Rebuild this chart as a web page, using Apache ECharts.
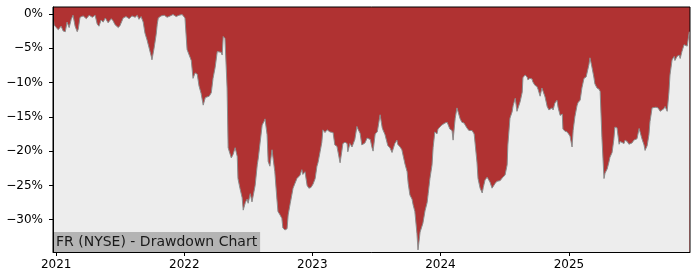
<!DOCTYPE html>
<html>
<head>
<meta charset="utf-8">
<script src="https://cdn.jsdelivr.net/npm/echarts@6/dist/echarts.min.js"></script>
<style>html,body{margin:0;padding:0;background:#fff}#c{width:700px;height:280px}</style>
</head>
<body>
<div id="c"></div>
<script>
const chartTitle = "FR (NYSE) - Drawdown Chart";
const yTicks = [0, -5, -10, -15, -20, -25, -30];
const xTicks = ["2021-01-01", "2022-01-01", "2023-01-01", "2024-01-01", "2025-01-01"];
const dates = [
"2020-12-23","2020-12-26","2021-01-01","2021-01-07","2021-01-15","2021-01-21","2021-01-27","2021-02-01","2021-02-07","2021-02-13",
"2021-02-18","2021-02-24","2021-03-02","2021-03-05","2021-03-10","2021-03-19","2021-03-28","2021-04-05","2021-04-14","2021-04-22",
"2021-04-28","2021-05-03","2021-05-09","2021-05-15","2021-05-21","2021-05-29","2021-06-07","2021-06-12","2021-06-18","2021-06-27",
"2021-07-02","2021-07-11","2021-07-19","2021-07-28","2021-08-05","2021-08-14","2021-08-20","2021-08-25","2021-08-31","2021-09-06",
"2021-09-11","2021-09-17","2021-09-23","2021-09-29","2021-10-01","2021-10-07","2021-10-13","2021-10-16","2021-10-19","2021-10-27",
"2021-11-05","2021-11-13","2021-11-22","2021-11-30","2021-12-09","2021-12-17","2021-12-26","2021-12-31","2022-01-03","2022-01-09",
"2022-01-15","2022-01-21","2022-01-26","2022-02-01","2022-02-07","2022-02-12","2022-02-18","2022-02-24","2022-03-02","2022-03-07",
"2022-03-13","2022-03-19","2022-03-24","2022-03-30","2022-04-05","2022-04-10","2022-04-16","2022-04-19","2022-04-22","2022-04-27",
"2022-05-03","2022-05-06","2022-05-12","2022-05-15","2022-05-20","2022-05-26","2022-06-01","2022-06-03","2022-06-09","2022-06-15",
"2022-06-18","2022-06-24","2022-06-29","2022-07-02","2022-07-08","2022-07-13","2022-07-16","2022-07-22","2022-07-28","2022-07-31",
"2022-08-05","2022-08-11","2022-08-17","2022-08-19","2022-08-25","2022-08-28","2022-09-02","2022-09-08","2022-09-11","2022-09-16",
"2022-09-22","2022-09-25","2022-10-01","2022-10-06","2022-10-09","2022-10-15","2022-10-21","2022-10-24","2022-10-30","2022-11-04",
"2022-11-07","2022-11-12","2022-11-18","2022-11-27","2022-12-02","2022-12-05","2022-12-11","2022-12-17","2022-12-22","2022-12-28",
"2023-01-03","2023-01-09","2023-01-14","2023-01-17","2023-01-23","2023-01-28","2023-01-31","2023-02-06","2023-02-12","2023-02-15",
"2023-02-20","2023-03-01","2023-03-06","2023-03-12","2023-03-15","2023-03-21","2023-03-26","2023-03-29","2023-04-04","2023-04-10",
"2023-04-12","2023-04-18","2023-04-24","2023-04-27","2023-05-02","2023-05-08","2023-05-11","2023-05-17","2023-05-22","2023-05-31",
"2023-06-06","2023-06-09","2023-06-15","2023-06-20","2023-06-23","2023-06-29","2023-07-05","2023-07-07","2023-07-13","2023-07-19",
"2023-07-21","2023-07-27","2023-08-02","2023-08-04","2023-08-10","2023-08-16","2023-08-18","2023-08-24","2023-08-30","2023-09-01",
"2023-09-08","2023-09-13","2023-09-16","2023-09-22","2023-09-28","2023-10-01","2023-10-06","2023-10-12","2023-10-15","2023-10-20",
"2023-10-26","2023-10-29","2023-11-04","2023-11-09","2023-11-12","2023-11-18","2023-11-24","2023-11-27","2023-12-02","2023-12-08",
"2023-12-11","2023-12-16","2023-12-22","2023-12-25","2023-12-30","2024-01-05","2024-01-08","2024-01-14","2024-01-20","2024-01-22",
"2024-01-28","2024-02-03","2024-02-06","2024-02-12","2024-02-17","2024-02-20","2024-02-26","2024-03-02","2024-03-08","2024-03-11",
"2024-03-16","2024-03-22","2024-03-25","2024-03-31","2024-04-06","2024-04-09","2024-04-14","2024-04-17","2024-04-23","2024-04-29",
"2024-05-02","2024-05-07","2024-05-13","2024-05-16","2024-05-21","2024-05-27","2024-05-30","2024-06-05","2024-06-10","2024-06-13",
"2024-06-19","2024-06-25","2024-06-27","2024-07-03","2024-07-09","2024-07-11","2024-07-17","2024-07-23","2024-07-26","2024-08-01",
"2024-08-06","2024-08-09","2024-08-15","2024-08-21","2024-08-23","2024-08-29","2024-09-04","2024-09-06","2024-09-12","2024-09-18",
"2024-09-20","2024-09-26","2024-10-02","2024-10-05","2024-10-11","2024-10-16","2024-10-19","2024-10-25","2024-10-31","2024-11-05",
"2024-11-08","2024-11-14","2024-11-17","2024-11-22","2024-11-28","2024-12-01","2024-12-07","2024-12-13","2024-12-15","2024-12-21",
"2024-12-27","2024-12-29","2025-01-04","2025-01-10","2025-01-13","2025-01-18","2025-01-24","2025-01-27","2025-02-02","2025-02-07",
"2025-02-13","2025-02-19","2025-02-22","2025-02-27","2025-03-02","2025-03-07","2025-03-13","2025-03-16","2025-03-22","2025-03-28",
"2025-03-31","2025-04-05","2025-04-11","2025-04-14","2025-04-20","2025-04-25","2025-04-28","2025-05-04","2025-05-09","2025-05-12",
"2025-05-18","2025-05-24","2025-05-27","2025-06-01","2025-06-07","2025-06-10","2025-06-16","2025-06-21","2025-06-24","2025-06-30",
"2025-07-05","2025-07-08","2025-07-14","2025-07-20","2025-07-23","2025-07-28","2025-08-03","2025-08-06","2025-08-12","2025-08-17",
"2025-08-20","2025-08-26","2025-08-31","2025-09-06","2025-09-12","2025-09-15","2025-09-18","2025-09-23","2025-09-29","2025-10-02",
"2025-10-08","2025-10-13","2025-10-16","2025-10-22","2025-10-28","2025-10-30","2025-11-05","2025-11-11","2025-11-14","2025-11-19",
"2025-11-25","2025-11-28","2025-12-04","2025-12-10"
];
const drawdown = [
-0.4,-1.6,-2.0,-2.3,-1.8,-2.5,-2.6,-1.2,-2.0,-0.8,
-0.2,-1.8,-2.6,-2.2,-0.5,-0.3,-0.7,-0.2,-0.5,-0.2,
-1.5,-1.8,-0.9,-1.2,-0.6,-1.3,-0.7,-1.0,-1.6,-2.0,
-1.7,-0.6,-0.4,-0.7,-0.3,-0.5,-0.2,-0.8,-0.4,-1.2,
-2.8,-3.8,-5.0,-6.2,-6.7,-5.0,-3.0,-1.5,-0.6,-0.3,
-0.2,-0.5,-0.3,-0.1,-0.4,-0.2,-0.1,-0.3,-0.6,-5.2,
-6.0,-6.8,-9.4,-8.6,-8.8,-10.5,-11.6,-13.3,-12.2,-12.4,
-12.0,-11.5,-9.4,-7.8,-5.5,-5.3,-5.6,-6.0,-3.3,-3.6,
-10.8,-19.5,-20.5,-21.0,-20.5,-19.5,-20.8,-24.0,-25.5,-26.8,
-28.6,-27.5,-27.0,-27.6,-26.2,-27.4,-27.6,-25.0,-22.0,-21.0,
-18.8,-16.2,-15.6,-15.3,-17.6,-21.5,-22.2,-19.8,-19.6,-23.0,
-27.0,-28.8,-29.3,-29.8,-31.2,-31.5,-31.3,-29.3,-27.6,-27.8,
-25.4,-25.2,-24.0,-23.5,-22.7,-23.4,-23.0,-25.0,-25.4,-25.3,
-24.8,-24.0,-22.2,-21.7,-20.1,-18.7,-16.9,-17.3,-16.9,-16.8,
-17.2,-17.3,-19.1,-19.3,-19.4,-21.7,-20.0,-18.9,-18.7,-18.9,
-20.1,-18.9,-19.4,-19.6,-18.3,-16.4,-16.8,-17.4,-19.1,-18.8,
-18.1,-17.9,-18.3,-19.5,-20.0,-17.5,-17.2,-17.0,-14.7,-16.6,
-16.9,-17.6,-18.8,-19.2,-19.5,-20.2,-20.0,-18.9,-18.4,-19.0,
-19.4,-19.8,-20.0,-21.9,-23.0,-24.7,-26.4,-27.0,-27.8,-28.8,
-32.0,-34.4,-31.8,-32.0,-30.5,-28.7,-27.5,-26.2,-24.0,-22.0,
-19.5,-17.2,-17.5,-16.8,-16.5,-16.2,-16.3,-15.9,-15.8,-16.0,
-16.8,-17.0,-18.4,-15.2,-13.7,-13.5,-15.3,-15.8,-15.9,-16.1,
-16.6,-17.0,-17.2,-17.0,-17.5,-17.4,-21.6,-24.0,-25.4,-26.1,
-25.3,-24.2,-23.8,-23.6,-24.5,-25.4,-25.3,-24.7,-24.4,-24.2,
-24.3,-23.9,-23.7,-23.5,-22.0,-19.1,-15.2,-14.3,-13.4,-12.3,
-14.2,-14.0,-12.8,-11.4,-9.3,-8.9,-9.2,-9.6,-9.4,-9.5,
-9.9,-10.4,-10.6,-11.0,-12.0,-10.8,-10.8,-12.1,-13.5,-14.0,
-13.9,-13.7,-14.0,-13.0,-12.6,-13.6,-14.8,-14.6,-16.8,-17.1,
-17.2,-17.4,-17.8,-19.4,-17.0,-15.0,-13.4,-12.9,-12.6,-10.8,
-9.4,-9.2,-9.0,-7.4,-6.4,-7.6,-9.2,-10.2,-10.8,-11.0,
-11.3,-18.0,-24.0,-23.2,-22.6,-21.6,-20.9,-20.2,-18.3,-16.5,
-16.6,-19.0,-18.6,-18.8,-18.9,-18.4,-18.6,-19.0,-19.1,-18.8,
-18.4,-18.6,-18.2,-16.7,-16.9,-18.2,-19.1,-19.9,-19.2,-17.6,
-15.7,-13.7,-13.5,-13.6,-13.7,-13.8,-14.2,-14.0,-13.8,-13.5,
-14.2,-11.4,-8.9,-6.7,-6.2,-6.8,-6.2,-6.0,-6.5,-5.5,
-4.5,-4.3,-4.7,-2.6
];

const toTs = s => { const p = s.split('-').map(Number); return new Date(p[0], p[1] - 1, p[2]).getTime(); };
const seriesData = dates.map((d, i) => [toTs(d), drawdown[i]]);
const xTickTs = xTicks.map(toTs);
const font = 'DejaVu Sans';

const chart = echarts.init(document.getElementById('c'), null, { renderer: 'canvas' });
chart.setOption({
  animation: false,
  grid: {
    left: 53, right: 10, top: 7, bottom: 28,
    show: true, backgroundColor: '#b03232', borderColor: '#000', borderWidth: 1,
    outerBoundsMode: 'none'
  },
  title: {
    text: chartTitle, left: 53, bottom: 28,
    backgroundColor: '#b4b4b4', padding: [2, 3, 2, 3],
    textStyle: { fontFamily: font, fontSize: 14, fontWeight: 'normal', color: '#1a1a1a', lineHeight: 16 }
  },
  xAxis: {
    type: 'value', z: 10, scale: true,
    min: toTs('2020-12-23'), max: toTs('2025-12-12'),
    axisLine: { show: true, onZero: false, lineStyle: { color: '#000', width: 1 } },
    axisTick: { show: true, length: 4, lineStyle: { color: '#000' }, customValues: xTickTs },
    axisLabel: { customValues: xTickTs, margin: 7, fontFamily: font, fontSize: 12, color: '#000',
      formatter: v => String(new Date(v).getFullYear()) },
    splitLine: { show: false }
  },
  yAxis: {
    type: 'value', z: 10, min: -34.7, max: 1.0,
    axisLine: { show: true, onZero: false, lineStyle: { color: '#000', width: 1 } },
    axisTick: { show: true, length: 4, lineStyle: { color: '#000' }, customValues: yTicks },
    axisLabel: { customValues: yTicks, margin: 10, fontFamily: font, fontSize: 12, color: '#000',
      formatter: v => (v < 0 ? '\u2212' : '') + Math.abs(v) + '%' },
    splitLine: { show: false }
  },
  series: [{
    type: 'line', data: seriesData, showSymbol: false, symbol: 'none',
    lineStyle: { color: '#8c8c8c', width: 1 },
    areaStyle: { color: '#ededed', origin: 'start', opacity: 1 },
    z: 2
  }]
});
</script>
</body>
</html>
